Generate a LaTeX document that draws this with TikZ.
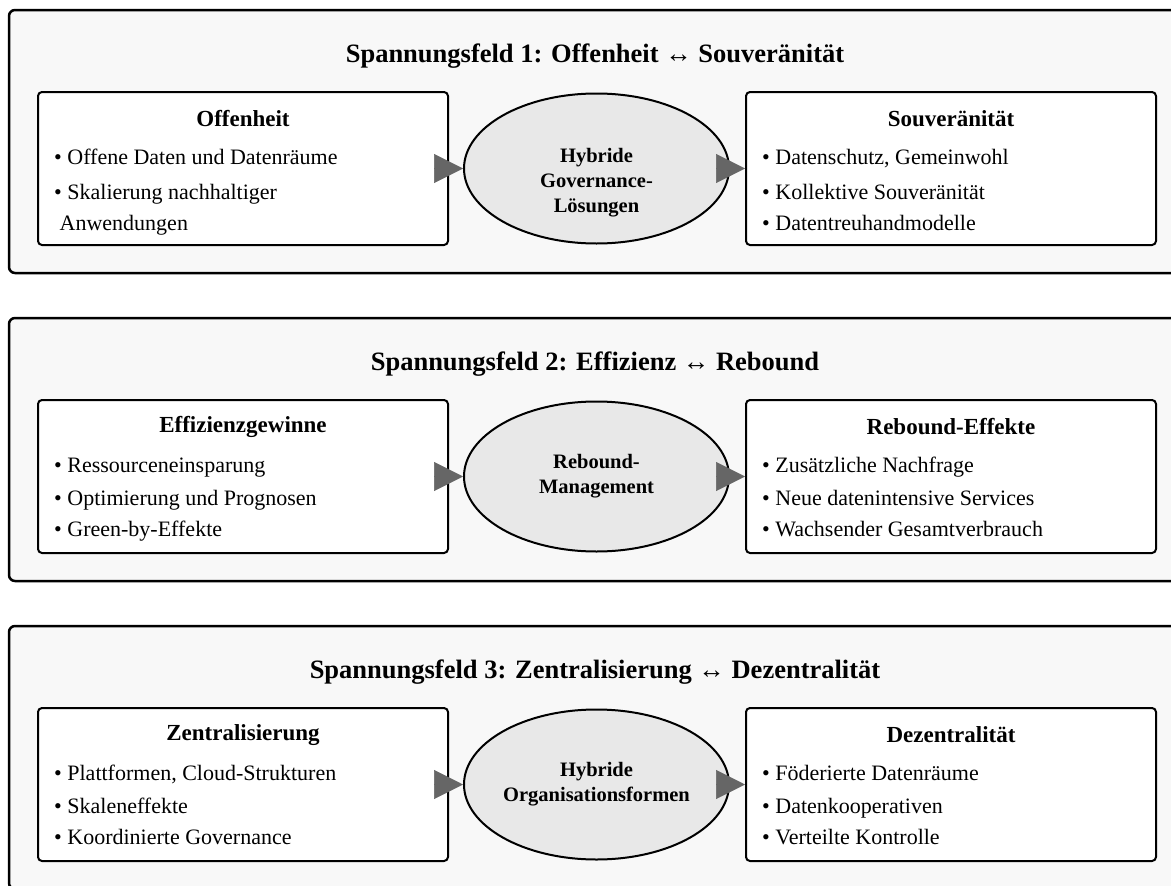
\documentclass[tikz,border=0pt]{standalone}
\usepackage{fontspec}
\setmainfont{Liberation Serif}
\usetikzlibrary{positioning,calc,shapes.geometric,arrows.meta}
\definecolor{panelgray}{HTML}{F8F8F8}
\definecolor{hubgray}{HTML}{E8E8E8}
\definecolor{tipgray}{HTML}{666666}
\tikzset{
  panel/.style={draw=black,line width=2.5pt,rounded corners=6pt,fill=panelgray,
    minimum width=1180pt,minimum height=263pt,inner sep=0pt},
  sidebox/.style={draw=black,line width=2pt,rounded corners=4pt,fill=white,
    minimum width=410pt,minimum height=153pt,inner sep=0pt},
  hub/.style={ellipse,draw=black,line width=2pt,fill=hubgray,
    minimum width=265pt,minimum height=150pt,inner sep=0pt},
  hubtext/.style={align=center,inner sep=0pt,font=\fontsize{20.5}{25}\selectfont\bfseries},
  fieldtitle/.style={font=\fontsize{26.5}{30}\selectfont\bfseries},
  boxhead/.style={font=\fontsize{23}{27}\selectfont\bfseries},
  itemtext/.style={anchor=base west,inner sep=0pt,font=\fontsize{22}{31}\selectfont},
  conn/.style={draw=tipgray,line width=0.5pt,-{Triangle[length=29pt,width=29pt]}}
}

\begin{document}
\begin{tikzpicture}[x=1pt,y=-1pt]
  \useasboundingbox (0,0) rectangle (1171,886);
  \clip (0,0) rectangle (1171,886);

  % Spannungsfeld 1
  \node [panel] (f1) at (599,141.5) {};
  \node [fieldtitle] (t1) at (595,56) {Spannungsfeld 1: Offenheit ↔ Souveränität};
  \node [sidebox] (l1) at (243,168.5) {};
  \node [hub,right=14pt of l1] (m1) {};
  \node [sidebox,right=15pt of m1] (r1) {};
  \node [hubtext] (mt1) at ($(m1.center)+(0,14)$) {Hybride\\Governance-\\Lösungen};

  \node [boxhead] (lh1) at ($(l1.north)+(0,28)$) {Offenheit};
  \node [itemtext] (la1) at ($(l1.north west)+(17,73)$) {• Offene Daten und Datenräume};
  \node [itemtext] (lb1) at ($(l1.north west)+(17,108)$) {• Skalierung nachhaltiger};
  \node [itemtext] (lc1) at ($(l1.north west)+(17,139)$) {\ Anwendungen};

  \node [boxhead] (rh1) at ($(r1.north)+(0,28)$) {Souveränität};
  \node [itemtext] (ra1) at ($(r1.north west)+(17,73)$) {• Datenschutz, Gemeinwohl};
  \node [itemtext] (rb1) at ($(r1.north west)+(17,108)$) {• Kollektive Souveränität};
  \node [itemtext] (rc1) at ($(r1.north west)+(17,139)$) {• Datentreuhandmodelle};

  \draw [conn] (l1.east) -- (m1.west);
  \draw [conn] (m1.east) -- (r1.west);

  % Spannungsfeld 2
  \node [panel] (f2) at (599,449.5) {};
  \node [fieldtitle] (t2) at (595,364) {Spannungsfeld 2: Effizienz ↔ Rebound};
  \node [sidebox] (l2) at (243,476.5) {};
  \node [hub,right=14pt of l2] (m2) {};
  \node [sidebox,right=15pt of m2] (r2) {};
  \node [hubtext] (mt2) at (m2.center) {Rebound-\\Management};

  \node [boxhead] (lh2) at ($(l2.north)+(0,28)$) {Effizienzgewinne};
  \node [itemtext] (la2) at ($(l2.north west)+(17,73)$) {• Ressourceneinsparung};
  \node [itemtext] (lb2) at ($(l2.north west)+(17,106)$) {• Optimierung und Prognosen};
  \node [itemtext] (lc2) at ($(l2.north west)+(17,137)$) {• Green-by-Effekte};

  \node [boxhead] (rh2) at ($(r2.north)+(0,28)$) {Rebound-Effekte};
  \node [itemtext] (ra2) at ($(r2.north west)+(17,73)$) {• Zusätzliche Nachfrage};
  \node [itemtext] (rb2) at ($(r2.north west)+(17,106)$) {• Neue datenintensive Services};
  \node [itemtext] (rc2) at ($(r2.north west)+(17,137)$) {• Wachsender Gesamtverbrauch};

  \draw [conn] (l2.east) -- (m2.west);
  \draw [conn] (m2.east) -- (r2.west);

  % Spannungsfeld 3
  \node [panel] (f3) at (599,757.5) {};
  \node [fieldtitle] (t3) at (595,672) {Spannungsfeld 3: Zentralisierung ↔ Dezentralität};
  \node [sidebox] (l3) at (243,784.5) {};
  \node [hub,right=14pt of l3] (m3) {};
  \node [sidebox,right=15pt of m3] (r3) {};
  \node [hubtext] (mt3) at (m3.center) {Hybride\\Organisationsformen};

  \node [boxhead] (lh3) at ($(l3.north)+(0,28)$) {Zentralisierung};
  \node [itemtext] (la3) at ($(l3.north west)+(17,73)$) {• Plattformen, Cloud-Strukturen};
  \node [itemtext] (lb3) at ($(l3.north west)+(17,106)$) {• Skaleneffekte};
  \node [itemtext] (lc3) at ($(l3.north west)+(17,137)$) {• Koordinierte Governance};

  \node [boxhead] (rh3) at ($(r3.north)+(0,28)$) {Dezentralität};
  \node [itemtext] (ra3) at ($(r3.north west)+(17,73)$) {• Föderierte Datenräume};
  \node [itemtext] (rb3) at ($(r3.north west)+(17,106)$) {• Datenkooperativen};
  \node [itemtext] (rc3) at ($(r3.north west)+(17,137)$) {• Verteilte Kontrolle};

  \draw [conn] (l3.east) -- (m3.west);
  \draw [conn] (m3.east) -- (r3.west);
\end{tikzpicture}
\end{document}
